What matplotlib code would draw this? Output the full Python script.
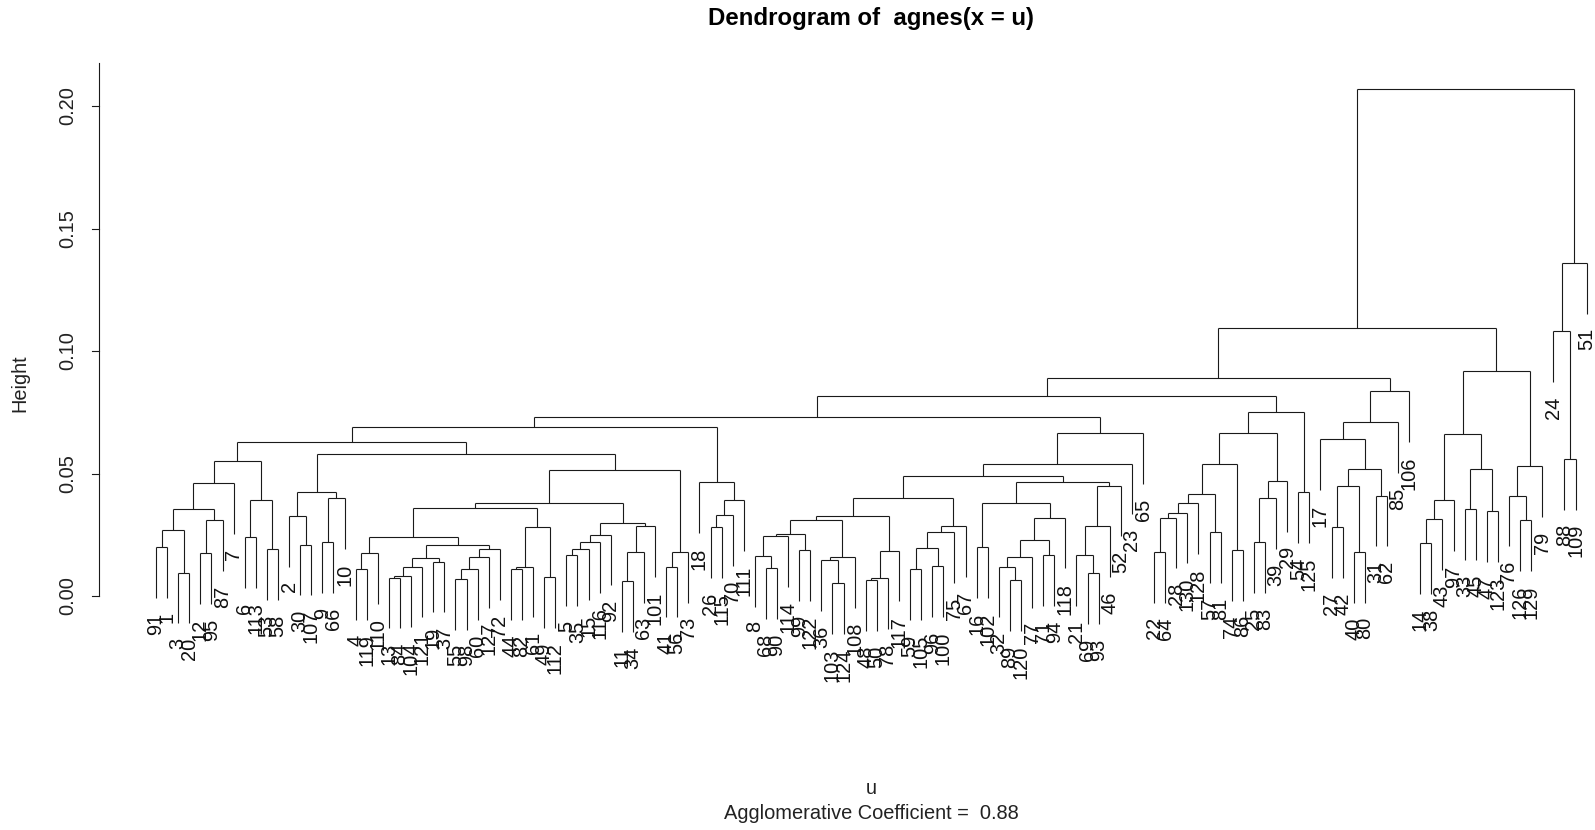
import matplotlib
matplotlib.use("Agg")
import matplotlib.pyplot as plt

plt.rcParams.update({"font.family": ["Liberation Sans", "DejaVu Sans"], "font.size": 14.4})

# agnes merge table (R convention): negative = observation number,
# positive = row of an earlier merge (1-based); children come before parents
merge_a = [-91, -3, 1, -12, 4, 3, 6, -6, -53, 8,
           7, -30, -2, -9, 14, 13, -4, 17, -13, 19,
           20, -19, 21, -55, 24, 25, 26, 23, 18, -44,
           30, -49, 31, 29, -5, 35, 36, 37, -11, 39,
           40, 38, 34, -41, 44, 43, 16, 11, -26, 49,
           50, -18, 48, -68, -8, 55, -99, 56, -103, -36,
           60, 58, -48, 63, 64, 62, -59, -96, 67, 69,
           70, 66, -16, -89, -32, 75, -71, 76, 78, 73,
           -69, -21, 82, 83, 80, 72, 86, 87, 53, -22,
           90, 91, 92, -57, 93, -74, 95, -25, 98, 99,
           97, -54, 101, 89, -27, -40, 105, -31, 107, -17,
           110, 111, 104, -14, 114, 115, -33, -47, 117, 116,
           -126, -76, 122, 120, 113, -88, -24, 127, 125]
merge_b = [-1, -20, 2, -95, -87, 5, -7, -113, -58, 9,
           10, -107, 12, -66, -10, 15, -119, -110, -84, -104,
           -121, -37, 22, -98, -60, -127, -72, 27, 28, -82,
           -61, -112, 32, 33, -35, -15, -116, -92, -34, -63,
           -101, 41, 42, -56, -73, 45, 46, 47, -115, -70,
           -111, 51, 52, -90, 54, -114, -122, 57, -124, 59,
           -108, 61, -50, -78, -117, 65, -105, -100, 68, -75,
           -67, 71, -102, -120, 74, -77, -94, 77, -118, 79,
           -93, 81, -46, -52, 84, 85, -23, -65, 88, -64,
           -28, -130, -128, -81, 94, -86, 96, -83, -39, -29,
           100, -125, 102, 103, -42, -80, 106, -62, 108, 109,
           -85, -106, 112, -38, -43, -97, -45, -123, 118, 119,
           -129, 121, -79, 123, 124, -109, 126, -51, 128]
heights = [0.020, 0.0095, 0.027, 0.0175, 0.031, 0.0355, 0.046, 0.024, 0.019, 0.039,
           0.055, 0.021, 0.0327, 0.022, 0.040, 0.0425, 0.011, 0.0175, 0.0075, 0.008,
           0.012, 0.014, 0.0155, 0.007, 0.011, 0.016, 0.019, 0.021, 0.024, 0.011,
           0.012, 0.0077, 0.028, 0.036, 0.0167, 0.019, 0.022, 0.025, 0.006, 0.018,
           0.0286, 0.030, 0.038, 0.012, 0.018, 0.0514, 0.058, 0.063, 0.028, 0.033,
           0.039, 0.0465, 0.069, 0.0114, 0.0163, 0.0245, 0.0188, 0.0255, 0.0053, 0.0145,
           0.016, 0.031, 0.0065, 0.0073, 0.0185, 0.0327, 0.011, 0.0122, 0.0195, 0.026,
           0.0285, 0.040, 0.020, 0.0065, 0.012, 0.016, 0.0167, 0.023, 0.032, 0.038,
           0.0094, 0.0167, 0.0286, 0.045, 0.0466, 0.049, 0.054, 0.0664, 0.073, 0.018,
           0.032, 0.034, 0.038, 0.026, 0.0416, 0.0188, 0.054, 0.022, 0.040, 0.047,
           0.0665, 0.0425, 0.0752, 0.0817, 0.028, 0.018, 0.045, 0.041, 0.052, 0.064,
           0.071, 0.0837, 0.089, 0.0216, 0.0314, 0.039, 0.0355, 0.0347, 0.052, 0.066,
           0.031, 0.041, 0.053, 0.0917, 0.1095, 0.056, 0.108, 0.136, 0.207]

y_ticks = [0.00, 0.05, 0.10, 0.15, 0.20]
y_tick_labels = ["0.00", "0.05", "0.10", "0.15", "0.20"]
ac_value = 0.88

n_merge = len(heights)
hang = 0.1 * max(heights)

# leaf order from a depth-first walk of the merge table
order = []
def walk(m):
    for c in (merge_a[m - 1], merge_b[m - 1]):
        if c < 0:
            order.append(-c)
        else:
            walk(c)
walk(n_merge)
pos = {obs: i + 1 for i, obs in enumerate(order)}

xnode = {}
def child_x(c):
    return pos[-c] if c < 0 else xnode[c]

for m in range(1, n_merge + 1):
    xnode[m] = (child_x(merge_a[m - 1]) + child_x(merge_b[m - 1])) / 2

W, H = 1595, 830
fig = plt.figure(figsize=(W / 100, H / 100), dpi=100)
ax = fig.add_axes([0, 0, 1, 1])
# pixel mapping: leaf i at 144.91 + 11.09*i, height h at 596 - 2450*h from the top
ax.set_xlim(-144.91 / 11.09, (W - 144.91) / 11.09)
ax.set_ylim(-(H - 596) / 2450, 596 / 2450)
ax.axis("off")

lc = "#1a1a1a"
lw = 0.8
for m in range(1, n_merge + 1):
    h = heights[m - 1]
    xa = child_x(merge_a[m - 1])
    xb = child_x(merge_b[m - 1])
    ax.plot([xa, xb], [h, h], color=lc, lw=lw, solid_capstyle="butt")
    for c, xc in ((merge_a[m - 1], xa), (merge_b[m - 1], xb)):
        if c < 0:
            y0 = h - hang
            ax.plot([xc, xc], [h, y0], color=lc, lw=lw, solid_capstyle="butt")
            ax.annotate(str(-c), (xc, y0), xytext=(0, -10.5), textcoords="offset points",
                        rotation=90, rotation_mode="anchor", ha="right", va="center",
                        fontsize=14.4, color="#111111")
        else:
            ax.plot([xc, xc], [h, heights[c - 1]], color=lc, lw=lw, solid_capstyle="butt")

# y axis
x_axis = (98.7 - 144.91) / 11.09
tick_len = 7 / 11.09
ax.plot([x_axis, x_axis], [0, 0.2176], color=lc, lw=lw, clip_on=False)
for t, lab in zip(y_ticks, y_tick_labels):
    ax.plot([x_axis - tick_len, x_axis], [t, t], color=lc, lw=lw, clip_on=False)
    ax.text((68 - 144.91) / 11.09, t, lab, rotation=90, ha="center", va="center",
            fontsize=14.4, color="#222222")

fig.text(20 / W, 1 - 383 / H, "Height", rotation=90, ha="center", va="center",
         fontsize=14.4, color="#222222")
fig.text(871 / W, 1 - 18.5 / H, "Dendrogram of  agnes(x = u)", ha="center", va="center",
         fontsize=17.3, fontweight="bold")
fig.text(871 / W, 1 - 788 / H, "u", ha="center", va="center", fontsize=14.4, color="#222222")
fig.text(871 / W, 1 - 813 / H, "Agglomerative Coefficient =  %.2f" % ac_value,
         ha="center", va="center", fontsize=14.4, color="#222222")

fig.savefig("out.png", dpi=100)
